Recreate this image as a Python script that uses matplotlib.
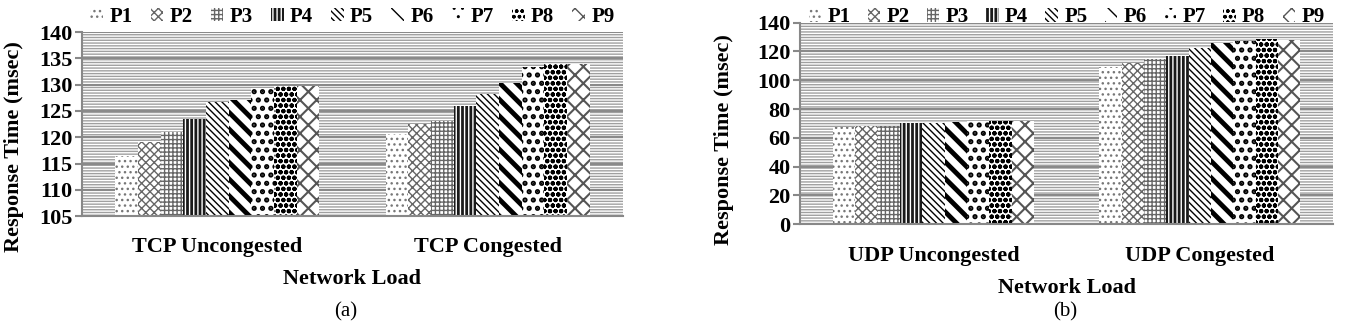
import matplotlib.pyplot as plt
from matplotlib.patches import Rectangle
import numpy as np

plt.rcParams['font.family'] = ['Liberation Serif', 'DejaVu Serif']

series = ['P1', 'P2', 'P3', 'P4', 'P5', 'P6', 'P7', 'P8', 'P9']
tcp_cats = ['TCP Uncongested', 'TCP Congested']
udp_cats = ['UDP Uncongested', 'UDP Congested']

# response time (msec), one value per series
tcp_uncongested = [116.4, 119.1, 121.0, 123.4, 126.7, 127.0, 129.3, 129.7, 129.7]
tcp_congested = [120.7, 122.6, 123.1, 126.0, 128.2, 130.3, 133.4, 133.9, 133.9]
udp_uncongested = [67.4, 68.2, 68.2, 70.6, 70.6, 71.0, 72.0, 72.0, 72.0]
udp_congested = [109.4, 111.8, 114.6, 116.9, 122.2, 125.7, 127.5, 128.5, 128.0]

# pattern fills for the series
hatches = ['...', 'xxxx', '++++', '||||', '\\\\\\\\\\', '\\\\', '..', 'ooo', 'xx']
hatch_colors = ['#777777', '#666666', '#666666', 'white', 'black', 'black',
                'black', 'black', '#555555']
face_colors = ['white', 'white', 'white', '#1a1a1a', 'white', 'white',
               'white', 'white', 'white']
hatch_lws = [1.0, 1.0, 1.0, 1.0, 1.0, 3.5, 2.5, 1.5, 1.5]

bold = {'weight': 'bold', 'size': 16}


def draw_panel(ax, cats, values, ylim, ystep, leg_y, tick_pad, label_pad):
    ax.set_axisbelow(True)
    ax.add_patch(Rectangle((0, 0), 1, 1, transform=ax.transAxes,
                           facecolor='white', edgecolor='#a0a0a0',
                           hatch='------', lw=0, zorder=0))
    x = np.arange(len(cats))
    width = 0.755 / len(series)
    for i, name in enumerate(series):
        vals = [v[i] for v in values]
        with plt.rc_context({'hatch.linewidth': hatch_lws[i]}):
            bars = ax.bar(x - 0.755 / 2 + width * (i + 0.5), vals, width,
                          label=name, color=face_colors[i],
                          edgecolor=hatch_colors[i], hatch=hatches[i], lw=0)
        for b in bars:
            if hasattr(b, 'set_hatch_linewidth'):
                b.set_hatch_linewidth(hatch_lws[i])
    ax.set_xlim(-0.5, len(cats) - 0.5)
    ax.set_ylim(*ylim)
    ax.set_yticks(np.arange(ylim[0], ylim[1] + 1, ystep))
    ax.set_xticks(x)
    ax.set_xticklabels(cats, fontdict=bold)
    for lab in ax.get_yticklabels():
        lab.set_fontweight('bold')
        lab.set_fontsize(16)
    ax.tick_params(axis='x', length=0, pad=tick_pad)
    ax.tick_params(axis='y', length=5, color='#888888', width=1.5, pad=2)
    ax.grid(axis='y', color='#8a8a8a', lw=1.5)
    for s in ['top', 'right']:
        ax.spines[s].set_visible(False)
    for s in ['left', 'bottom']:
        ax.spines[s].set_color('#888888')
        ax.spines[s].set_linewidth(1.5)
    ax.set_xlabel('Network Load', fontdict=bold, labelpad=label_pad)
    ax.set_ylabel('Response Time (msec)', fontdict=bold, labelpad=4)
    ax.legend(loc='lower left', bbox_to_anchor=(0, leg_y, 1, 0.1),
              mode='expand', ncol=9, frameon=False, handlelength=0.6,
              handleheight=0.6, handletextpad=0.3, borderaxespad=0,
              prop={'weight': 'bold', 'size': 15})


fig = plt.figure(figsize=(13.45, 3.24), dpi=100)
ax1 = fig.add_axes([0.061, 0.333, 0.402, 0.568])
ax2 = fig.add_axes([0.595, 0.308, 0.396, 0.622])

draw_panel(ax1, tcp_cats, [tcp_uncongested, tcp_congested], (105, 140), 5,
           0.985, 15, 9)
draw_panel(ax2, udp_cats, [udp_uncongested, udp_congested], (0, 140), 20,
           0.935, 16, 8)
ax1.yaxis.set_label_coords(-0.108, 0.38)
ax2.yaxis.set_label_coords(-0.125, 0.42)

fig.text(0.257, 1 - 312 / 324, '(a)', ha='center', va='center', fontsize=15)
fig.text(0.792, 1 - 312 / 324, '(b)', ha='center', va='center', fontsize=15)

fig.savefig('out.png', dpi=100)
